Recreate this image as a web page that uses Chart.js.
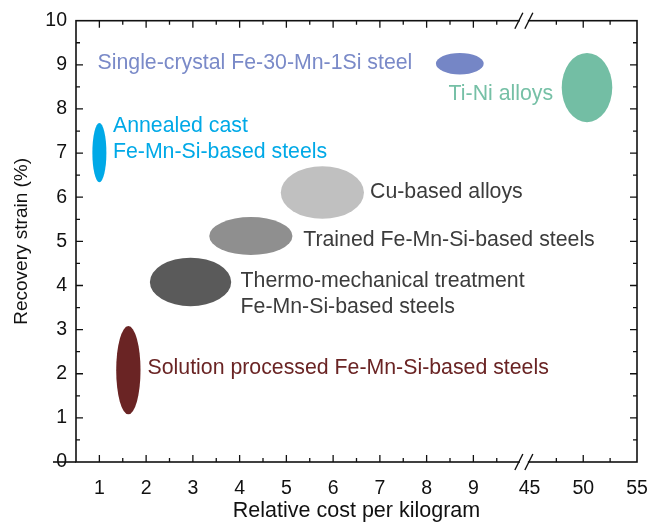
<!DOCTYPE html>
<html>
<head>
<meta charset="utf-8">
<script src="https://cdn.jsdelivr.net/npm/chart.js@4/dist/chart.umd.min.js"></script>
<style>
  html, body { margin: 0; padding: 0; background: #fff; }
  #wrap { width: 649px; height: 524px; }
</style>
</head>
<body>
<div id="wrap"><canvas id="chart"></canvas></div>
<script>
// data (cost in relative units, strain in %)
const groups = [
    'Single-crystal Fe-30-Mn-1Si steel',
    'Ti-Ni alloys',
    'Annealed cast Fe-Mn-Si-based steels',
    'Cu-based alloys',
    'Trained Fe-Mn-Si-based steels',
    'Thermo-mechanical treatment Fe-Mn-Si-based steels',
    'Solution processed Fe-Mn-Si-based steels'
];
const costLow    = [8.20, 48.0, 0.85, 4.88, 3.35, 2.08, 1.36];
const costHigh   = [9.22, 52.7, 1.15, 6.66, 5.13, 3.82, 1.88];
const strainLow  = [8.78, 7.70, 6.34, 5.51, 4.69, 3.53, 1.08];
const strainHigh = [9.27, 9.27, 7.68, 6.70, 5.55, 4.63, 3.08];

const costTicks = [1, 2, 3, 4, 5, 6, 7, 8, 9, 45, 50, 55];
const costMinor = [1.5, 2.5, 3.5, 4.5, 5.5, 6.5, 7.5, 8.5, 9.5, 47.5, 52.5];
const strainTicks = [0, 1, 2, 3, 4, 5, 6, 7, 8, 9, 10];
const strainMinor = [0.5, 1.5, 2.5, 3.5, 4.5, 5.5, 6.5, 7.5, 8.5, 9.5];

// styling / label placement
const fillColors = ['#7586c6', '#73bea4', '#00a9e7', '#c0c0c0', '#8f8f8f', '#5a5a5a', '#6a2424'];
const textColors = ['#7a8ac8', '#76c0a6', '#00a9e7', '#3c3c3c', '#3c3c3c', '#3c3c3c', '#6a2424'];
const labelLines = [
    ['Single-crystal Fe-30-Mn-1Si steel'],
    ['Ti-Ni alloys'],
    ['Annealed cast', 'Fe-Mn-Si-based steels'],
    ['Cu-based alloys'],
    ['Trained Fe-Mn-Si-based steels'],
    ['Thermo-mechanical treatment', 'Fe-Mn-Si-based steels'],
    ['Solution processed Fe-Mn-Si-based steels']
];
const labelCost   = [0.96, 8.47, 1.29, 6.79, 5.36, 4.02, 2.03];
const labelStrain = [9.04, 8.34, 7.60, 6.12, 5.03, 4.09, 2.13];

// broken cost axis: 0.5..9.5 linear, then 45..55 compressed
const BREAK = 10.08;
function costToAxis(c) {
    return c <= 10 ? c : 10.2 + (c - 45) * 0.23;
}
function axisToCost(t) {
    return t <= BREAK ? t : Math.round(45 + (t - 10.2) / 0.23);
}

const FONT = "'Liberation Sans', Arial, Helvetica, sans-serif";

const framePlugin = {
    id: 'frame',
    beforeDatasetsDraw(chart) {
        const ctx = chart.ctx;
        const xs = chart.scales.x, ys = chart.scales.y;
        // ellipses
        groups.forEach((g, i) => {
            const x0 = xs.getPixelForValue(costToAxis(costLow[i]));
            const x1 = xs.getPixelForValue(costToAxis(costHigh[i]));
            const y0 = ys.getPixelForValue(strainLow[i]);
            const y1 = ys.getPixelForValue(strainHigh[i]);
            ctx.save();
            ctx.fillStyle = fillColors[i];
            ctx.beginPath();
            ctx.ellipse((x0 + x1) / 2, (y0 + y1) / 2, Math.abs(x1 - x0) / 2, Math.abs(y1 - y0) / 2, 0, 0, Math.PI * 2);
            ctx.fill();
            ctx.restore();
        });
        // labels
        ctx.save();
        ctx.font = '21.3px ' + FONT;
        ctx.textAlign = 'left';
        ctx.textBaseline = 'middle';
        labelLines.forEach((lines, i) => {
            const x = xs.getPixelForValue(labelCost[i]);
            const y = ys.getPixelForValue(labelStrain[i]);
            ctx.fillStyle = textColors[i];
            lines.forEach((line, k) => ctx.fillText(line, x, y + k * 26));
        });
        ctx.restore();
    },
    afterDraw(chart) {
        const ctx = chart.ctx;
        const a = chart.chartArea;
        const xs = chart.scales.x, ys = chart.scales.y;
        ctx.save();
        ctx.strokeStyle = '#111';
        ctx.lineWidth = 1.6;
        ctx.strokeRect(a.left, a.top, a.right - a.left, a.bottom - a.top);
        // stray tick at zero
        ctx.beginPath();
        ctx.moveTo(a.left - 23, ys.getPixelForValue(0));
        ctx.lineTo(a.left, ys.getPixelForValue(0));
        ctx.stroke();
        ctx.lineWidth = 1.3;
        const tick = (vals, len) => {
            vals.forEach(v => {
                const t = costToAxis(v);
                if (Math.abs(t - 10.2) < 0.01 || t <= 0.5 || t >= 12.5) return;
                const px = xs.getPixelForValue(t);
                ctx.beginPath();
                ctx.moveTo(px, a.bottom); ctx.lineTo(px, a.bottom - len);
                ctx.moveTo(px, a.top); ctx.lineTo(px, a.top + len);
                ctx.stroke();
            });
        };
        const ytick = (vals, len) => {
            vals.forEach(v => {
                if (v <= 0 || v >= 10) return;
                const py = ys.getPixelForValue(v);
                ctx.beginPath();
                ctx.moveTo(a.left, py); ctx.lineTo(a.left + len, py);
                ctx.moveTo(a.right, py); ctx.lineTo(a.right - len, py);
                ctx.stroke();
            });
        };
        tick(costTicks, 7);
        tick(costMinor, 4);
        ytick(strainTicks, 7);
        ytick(strainMinor, 4);
        // axis break marks
        const bx = xs.getPixelForValue(BREAK);
        [a.top, a.bottom].forEach(y => {
            ctx.fillStyle = '#fff';
            ctx.fillRect(bx - 4, y - 1.5, 8, 3);
            ctx.strokeStyle = '#111';
            ctx.lineWidth = 1.4;
            ctx.beginPath();
            ctx.moveTo(bx - 9, y + 8); ctx.lineTo(bx - 1, y - 8);
            ctx.moveTo(bx + 1, y + 8); ctx.lineTo(bx + 9, y - 8);
            ctx.stroke();
        });
        ctx.restore();
    }
};

const ctx = document.getElementById('chart').getContext('2d');
new Chart(ctx, {
    type: 'scatter',
    data: {
        datasets: groups.map((g, i) => ({
            label: g,
            data: [{
                x: costToAxis((costLow[i] + costHigh[i]) / 2),
                y: (strainLow[i] + strainHigh[i]) / 2
            }],
            pointRadius: 0,
            backgroundColor: fillColors[i]
        }))
    },
    options: {
        responsive: true,
        maintainAspectRatio: false,
        animation: false,
        layout: { padding: { top: 20, right: 12, left: 0, bottom: 0 } },
        plugins: {
            legend: { display: false },
            tooltip: { enabled: false }
        },
        scales: {
            x: {
                type: 'linear',
                min: 0.5,
                max: 12.5,
                grid: { display: false, drawTicks: false },
                border: { display: false },
                afterBuildTicks: scale => {
                    scale.ticks = costTicks.map(c => ({ value: costToAxis(c) }));
                },
                afterFit: scale => {
                    scale.height = 62;
                    scale.paddingLeft = 0;
                    scale.paddingRight = 0;
                },
                ticks: {
                    color: '#111',
                    padding: 15,
                    maxRotation: 0,
                    autoSkip: false,
                    font: { family: FONT, size: 19.5 },
                    callback: value => String(axisToCost(value))
                },
                title: {
                    display: true,
                    text: 'Relative cost per kilogram',
                    color: '#111',
                    font: { family: FONT, size: 21.5 },
                    padding: { top: 0, bottom: 0 }
                }
            },
            y: {
                min: 0,
                max: 10,
                grid: { display: false, drawTicks: false },
                border: { display: false },
                afterBuildTicks: scale => {
                    scale.ticks = strainTicks.map(v => ({ value: v }));
                },
                afterFit: scale => { scale.width = 76; },
                ticks: {
                    color: '#111',
                    padding: 9,
                    font: { family: FONT, size: 19.5 }
                },
                title: {
                    display: true,
                    text: 'Recovery strain (%)',
                    color: '#111',
                    font: { family: FONT, size: 19 },
                    padding: { top: 10, bottom: 0 }
                }
            }
        }
    },
    plugins: [framePlugin]
});
</script>
</body>
</html>
